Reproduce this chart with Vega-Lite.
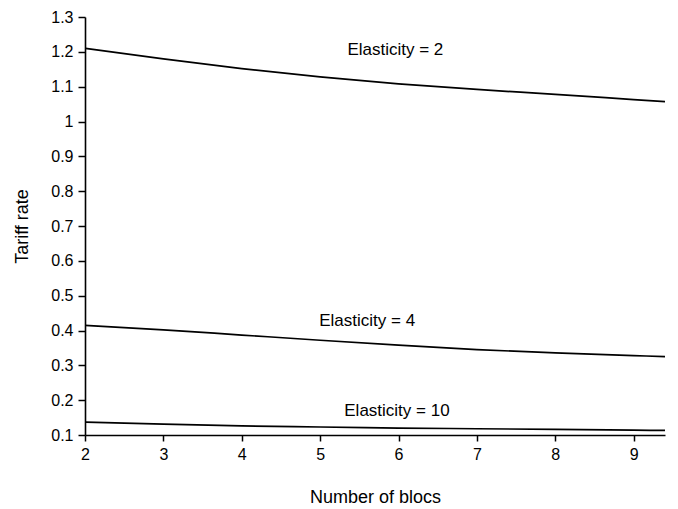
{
  "$schema": "https://vega.github.io/schema/vega-lite/v6.json",
  "width": 580,
  "height": 418,
  "autosize": "none",
  "padding": {"left": 85, "top": 17, "right": 13, "bottom": 74},
  "background": "white",
  "config": {
    "view": {"stroke": null},
    "font": "Liberation Sans",
    "axis": {"grid": false, "domainColor": "black", "tickColor": "black", "labelColor": "black", "titleColor": "black", "domainWidth": 1.6, "tickWidth": 1.5, "labelFont": "Liberation Sans", "titleFont": "Liberation Sans", "titleFontWeight": "normal", "labelFontSize": 16, "titleFontSize": 18}
  },
  "datasets": {
    "curves": [
      {"bloc": 2, "tariff": 1.21, "elasticity": "2"},
      {"bloc": 3, "tariff": 1.18, "elasticity": "2"},
      {"bloc": 4, "tariff": 1.152, "elasticity": "2"},
      {"bloc": 5, "tariff": 1.128, "elasticity": "2"},
      {"bloc": 6, "tariff": 1.108, "elasticity": "2"},
      {"bloc": 7, "tariff": 1.092, "elasticity": "2"},
      {"bloc": 8, "tariff": 1.078, "elasticity": "2"},
      {"bloc": 9, "tariff": 1.063, "elasticity": "2"},
      {"bloc": 9.4, "tariff": 1.057, "elasticity": "2"},
      {"bloc": 2, "tariff": 0.415, "elasticity": "4"},
      {"bloc": 3, "tariff": 0.402, "elasticity": "4"},
      {"bloc": 4, "tariff": 0.387, "elasticity": "4"},
      {"bloc": 5, "tariff": 0.372, "elasticity": "4"},
      {"bloc": 6, "tariff": 0.358, "elasticity": "4"},
      {"bloc": 7, "tariff": 0.345, "elasticity": "4"},
      {"bloc": 8, "tariff": 0.336, "elasticity": "4"},
      {"bloc": 9, "tariff": 0.328, "elasticity": "4"},
      {"bloc": 9.4, "tariff": 0.325, "elasticity": "4"},
      {"bloc": 2, "tariff": 0.137, "elasticity": "10"},
      {"bloc": 3, "tariff": 0.131, "elasticity": "10"},
      {"bloc": 4, "tariff": 0.126, "elasticity": "10"},
      {"bloc": 5, "tariff": 0.123, "elasticity": "10"},
      {"bloc": 6, "tariff": 0.12, "elasticity": "10"},
      {"bloc": 7, "tariff": 0.118, "elasticity": "10"},
      {"bloc": 8, "tariff": 0.116, "elasticity": "10"},
      {"bloc": 9, "tariff": 0.114, "elasticity": "10"},
      {"bloc": 9.4, "tariff": 0.113, "elasticity": "10"}
    ],
    "labels": [
      {"bloc": 5.96, "tariff": 1.205, "text": "Elasticity = 2"},
      {"bloc": 5.6, "tariff": 0.427, "text": "Elasticity = 4"},
      {"bloc": 5.98, "tariff": 0.169, "text": "Elasticity = 10"}
    ]
  },
  "layer": [
    {
      "data": {"name": "curves"},
      "mark": {"type": "line", "color": "black", "strokeWidth": 1.7, "interpolate": "monotone", "clip": true},
      "encoding": {
        "x": {"field": "bloc", "type": "quantitative", "scale": {"domain": [2, 9.4], "nice": false, "zero": false},
          "axis": {"title": "Number of blocs", "values": [2, 3, 4, 5, 6, 7, 8, 9], "tickCount": 20, "tickSize": 6, "labelPadding": 5, "titlePadding": 26, "format": "d", "labelOverlap": false, "labelFlush": false}},
        "y": {"field": "tariff", "type": "quantitative", "scale": {"domain": [0.1, 1.3], "nice": false, "zero": false},
          "axis": {"title": "Tariff rate", "values": [0.1, 0.2, 0.3, 0.4, 0.5, 0.6, 0.7, 0.8, 0.9, 1, 1.1, 1.2, 1.3], "tickCount": 20, "format": ".1~f", "tickSize": 7, "labelPadding": 5, "titlePadding": 19, "labelOverlap": false, "labelFlush": false}},
        "detail": {"field": "elasticity", "type": "nominal"}
      }
    },
    {
      "data": {"name": "labels"},
      "mark": {"type": "text", "fontSize": 17, "color": "black", "align": "center", "baseline": "middle", "font": "Liberation Sans"},
      "encoding": {
        "x": {"field": "bloc", "type": "quantitative"},
        "y": {"field": "tariff", "type": "quantitative"},
        "text": {"field": "text", "type": "nominal"}
      }
    }
  ]
}
